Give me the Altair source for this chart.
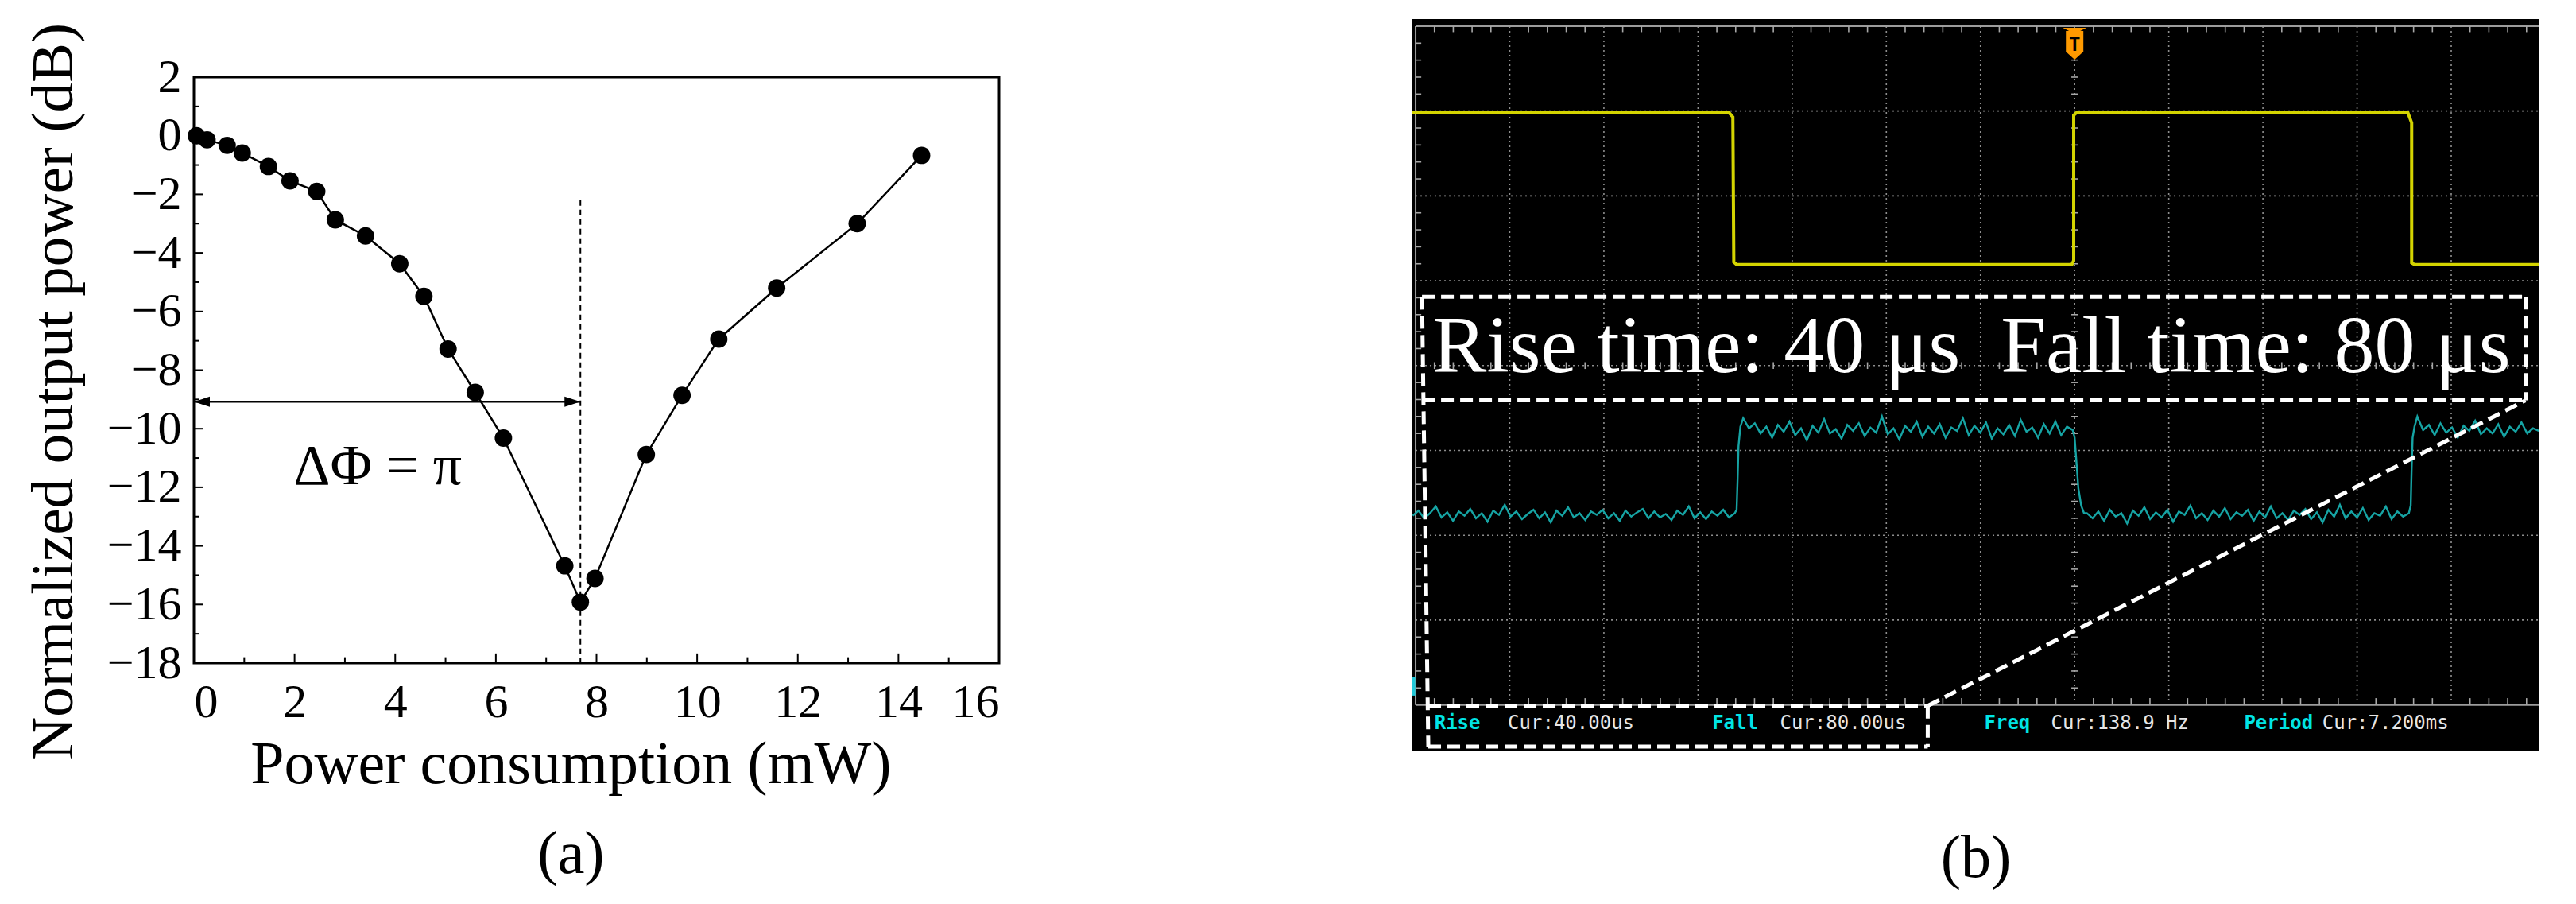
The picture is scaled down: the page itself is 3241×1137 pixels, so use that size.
import altair as alt
import pandas as pd

SERIF = "Liberation Serif"
MONO = "DejaVu Sans Mono"

# ------------------------------------------------------------------ panel (a)
power_mw = [0.05, 0.26, 0.66, 0.96, 1.48, 1.91, 2.44, 2.81, 3.41, 4.09, 4.57, 5.05,
            5.59, 6.15, 7.37, 7.68, 7.97, 8.99, 9.70, 10.43, 11.58, 13.18, 14.46]
output_db = [0.0, -0.14, -0.33, -0.59, -1.05, -1.54, -1.90, -2.87, -3.42, -4.37, -5.48, -7.28,
             -8.76, -10.32, -14.68, -15.92, -15.11, -10.88, -8.86, -6.94, -5.20, -3.00, -0.67]
x_major = [0, 2, 4, 6, 8, 10, 12, 14, 16]
x_minor = [1, 3, 5, 7, 9, 11, 13, 15]
y_major = [-18, -16, -14, -12, -10, -8, -6, -4, -2, 0, 2]
y_minor = [-17, -15, -13, -11, -9, -7, -5, -3, -1, 1]
pi_power = [7.68]
pi_line_top = [-2.2]
arrow_level = [-9.08]
phase_text = ["ΔΦ = π"]
phase_text_x = [3.65]
phase_text_y = [-11.31]

# ------------------------------------------------------------------ panel (b)  (units: screen divisions)
yellow_t = [-0.034, 3.33, 3.37, 3.38, 3.41, 6.97, 6.99, 6.99, 7.02, 10.54, 10.58, 10.58, 10.61, 11.937]
yellow_v = [1.02, 1.02, 1.07, 2.78, 2.81, 2.81, 2.76, 1.05, 1.02, 1.02, 1.14, 2.79, 2.81, 2.81]

cyan_low1 = [5.77, 5.71, 5.80, 5.74, 5.66, 5.79, 5.73, 5.83, 5.72, 5.77,
             5.69, 5.80, 5.74, 5.84, 5.71, 5.76, 5.64, 5.78, 5.72, 5.81,
             5.75, 5.70, 5.80, 5.73, 5.85, 5.71, 5.77, 5.67, 5.79, 5.74,
             5.82, 5.72, 5.76, 5.70, 5.80, 5.74, 5.83, 5.71, 5.78, 5.73,
             5.69, 5.80, 5.72, 5.79, 5.75, 5.82, 5.71, 5.76, 5.66, 5.80,
             5.73, 5.81, 5.72, 5.77, 5.70, 5.79, 5.74]
cyan_rise1_t = [3.41, 3.42, 3.43, 3.45]
cyan_rise1_v = [5.70, 5.35, 4.95, 4.72]
cyan_high1 = [4.62, 4.74, 4.68, 4.80, 4.72, 4.85, 4.70, 4.78, 4.66, 4.82,
              4.74, 4.88, 4.71, 4.79, 4.63, 4.80, 4.75, 4.86, 4.70, 4.77,
              4.68, 4.83, 4.73, 4.79, 4.60, 4.81, 4.74, 4.87, 4.71, 4.78,
              4.66, 4.84, 4.72, 4.80, 4.69, 4.85, 4.73, 4.77, 4.62, 4.82,
              4.71, 4.79, 4.67, 4.86, 4.74, 4.81, 4.70, 4.83, 4.64, 4.78,
              4.73, 4.85, 4.69, 4.80, 4.66, 4.82, 4.72, 4.76]
cyan_fall1_t = [7.00, 7.02, 7.04, 7.07, 7.10]
cyan_fall1_v = [4.85, 5.15, 5.45, 5.65, 5.74]
cyan_low2 = [5.74, 5.80, 5.72, 5.83, 5.70, 5.78, 5.74, 5.86, 5.71, 5.77,
             5.67, 5.81, 5.73, 5.79, 5.70, 5.84, 5.72, 5.76, 5.65, 5.80,
             5.74, 5.82, 5.71, 5.78, 5.68, 5.81, 5.73, 5.77, 5.70, 5.83,
             5.72, 5.79, 5.66, 5.80, 5.74, 5.82, 5.71, 5.76, 5.69, 5.81,
             5.73, 5.85, 5.70, 5.78, 5.64, 5.80, 5.72, 5.79, 5.68, 5.82,
             5.74, 5.77, 5.66, 5.81, 5.72, 5.78, 5.74]
cyan_rise2_t = [10.57, 10.58, 10.59, 10.61]
cyan_rise2_v = [5.65, 5.20, 4.85, 4.72]
cyan_high2 = [4.60, 4.76, 4.70, 4.82, 4.68, 4.79, 4.73, 4.85, 4.71, 4.77, 4.65,
              4.81, 4.74, 4.80, 4.69, 4.84, 4.72, 4.78, 4.67, 4.80, 4.74, 4.77]
# time spans (divisions) covered by each flat sampled segment
seg_low1 = (-0.03, 3.39)
seg_high1 = (3.48, 6.98)
seg_low2 = (7.13, 10.55)
seg_high2 = (10.64, 11.93)

callout_x = [0.068, 11.79, 0.068, 0.068, 0.135, 5.44, 0.135, 5.44]
callout_y = [3.19, 3.19, 4.41, 3.19, 8.01, 8.01, 8.49, 8.01]
callout_x2 = [11.79, 11.79, 11.79, 0.135, 5.44, 5.44, 5.44, 11.79]
callout_y2 = [3.19, 4.41, 4.41, 8.49, 8.01, 8.49, 8.49, 4.41]

big_text = ["Rise time: 40 μs\u00a0\u00a0Fall time: 80 μs"]
big_text_x = [0.18]
big_text_y = [4.08]

meas_names = ["Rise", "Fall", "Freq", "Period"]
meas_names_x = [0.20, 3.15, 6.04, 8.80]
meas_values = ["Cur:40.00us", "Cur:80.00us", "Cur:138.9 Hz", "Cur:7.200ms"]
meas_values_x = [0.98, 3.87, 6.75, 9.63]
meas_row_y = 8.22

trigger_t = [7.0]
grid_x = [1, 2, 3, 4, 5, 6, 7, 8, 9, 10, 11]
grid_y = [1, 2, 3, 4, 5, 6, 7]
x_div_min, x_div_max = -0.034, 11.937
y_div_min, y_div_max = -0.084, 8.547

# ================================================================== panel (a)
sx_a = alt.Scale(domain=[0, 16], nice=False, zero=False)
sy_a = alt.Scale(domain=[-18, 2], nice=False, zero=False)
x_axis = alt.Axis(values=x_major, ticks=False, domain=False, grid=False, labelFlush=True,
                  labelFont=SERIF, labelFontSize=60, labelColor="black", labelPadding=20,
                  titleFont=SERIF, titleFontSize=76, titleFontWeight="normal", titleColor="black",
                  titlePadding=11, titleLineHeight=113, titleX=474)
y_axis = alt.Axis(values=y_major, ticks=False, domain=False, grid=False,
                  labelFont=SERIF, labelFontSize=60, labelColor="black", labelPadding=16,
                  titleFont=SERIF, titleFontSize=75, titleFontWeight="normal", titleColor="black",
                  titlePadding=28, titleY=395)
XA = alt.X("x:Q", scale=sx_a, axis=x_axis, title=["Power consumption (mW)", "(a)"])
YA = alt.Y("y:Q", scale=sy_a, axis=y_axis, title="Normalized output power (dB)")

meas_df = pd.DataFrame({"x": power_mw, "y": output_db})
line_a = alt.Chart(meas_df).mark_line(color="black", strokeWidth=2.5).encode(x=XA, y=YA)
pts_a = alt.Chart(meas_df).mark_circle(color="black", size=480, opacity=1).encode(x=XA, y=YA)

vline_df = pd.DataFrame({"x": pi_power, "y": pi_line_top, "y2": [-18]})
vline = alt.Chart(vline_df).mark_rule(color="black", strokeWidth=2, strokeDash=[7, 5]).encode(
    x=XA, y=YA, y2="y2:Q")

arrow_df = pd.DataFrame({"x": [0], "x2": pi_power, "y": arrow_level})
arrow = alt.Chart(arrow_df).mark_rule(color="black", strokeWidth=2.5).encode(x=XA, x2="x2:Q", y=YA)
head_df = pd.DataFrame({"x": [0, pi_power[0]], "y": arrow_level * 2, "d": ["L", "R"]})
heads = alt.Chart(head_df).mark_point(filled=True, opacity=1, color="black", size=400).encode(
    x=XA, y=YA,
    shape=alt.Shape("d:N", legend=None,
                    scale=alt.Scale(domain=["L", "R"],
                                    range=["M0,0 L2,-0.65 L2,0.65 Z", "M0,0 L-2,-0.65 L-2,0.65 Z"])))
lab_df = pd.DataFrame({"x": phase_text_x, "y": phase_text_y, "t": phase_text})
phase_lab = alt.Chart(lab_df).mark_text(font=SERIF, fontSize=72, color="black").encode(
    x=XA, y=YA, text="t:N")

xt_df = pd.DataFrame({"x": x_major + x_minor,
                      "y": [-18] * (len(x_major) + len(x_minor)),
                      "y2": [-17.67] * len(x_major) + [-17.8] * len(x_minor)})
xticks = alt.Chart(xt_df).mark_rule(color="black", strokeWidth=2).encode(x=XA, y=YA, y2="y2:Q")
yt_df = pd.DataFrame({"y": y_major + y_minor,
                      "x": [0] * (len(y_major) + len(y_minor)),
                      "x2": [0.19] * len(y_major) + [0.11] * len(y_minor)})
yticks = alt.Chart(yt_df).mark_rule(color="black", strokeWidth=2).encode(x=XA, x2="x2:Q", y=YA)

panel_a = alt.layer(xticks, yticks, vline, arrow, heads, line_a, pts_a, phase_lab).properties(
    width=1013, height=737,
    view=alt.ViewBackground(stroke="black", strokeWidth=3, fill="white"))

# empty band that lowers panel (a) relative to panel (b)
spacer = alt.Chart(pd.DataFrame({"x": [0]})).mark_point(opacity=0).encode(
    x=alt.value(0), y=alt.value(0)).properties(
    width=1013, height=1, view=alt.ViewBackground(stroke=None, fill=None))

left_col = alt.vconcat(spacer, panel_a, spacing=0)

# ================================================================== panel (b)
sx_b = alt.Scale(domain=[x_div_min, x_div_max], nice=False, zero=False)
sy_b = alt.Scale(domain=[y_div_min, y_div_max], nice=False, zero=False, reverse=True)
XB = alt.X("x:Q", scale=sx_b, axis=None)
YB = alt.Y("y:Q", scale=sy_b, axis=None)

GRID = "#8e8e8e"
vg_df = pd.DataFrame({"x": grid_x, "y": [0] * len(grid_x), "y2": [8] * len(grid_x)})
vgrid = alt.Chart(vg_df).mark_rule(color=GRID, strokeWidth=1.6, strokeDash=[2, 4]).encode(
    x=XB, y=YB, y2="y2:Q")
hg_df = pd.DataFrame({"y": grid_y, "x": [0] * len(grid_y), "x2": [x_div_max] * len(grid_y)})
hgrid = alt.Chart(hg_df).mark_rule(color=GRID, strokeWidth=1.6, strokeDash=[2, 4]).encode(
    x=XB, x2="x2:Q", y=YB)
border_df = pd.DataFrame({"x": [0, 0, 0], "x2": [x_div_max, x_div_max, 0],
                          "y": [0, 8, 0], "y2": [0, 8, 8]})
border = alt.Chart(border_df).mark_rule(color="#9c9c9c", strokeWidth=2).encode(
    x=XB, x2="x2:Q", y=YB, y2="y2:Q")

minor_x = [round(0.2 * i, 2) for i in range(1, 60) if i % 5 != 0]
minor_y = [round(0.2 * i, 2) for i in range(1, 40) if i % 5 != 0]
tick_rows = []
for v in minor_x:
    tick_rows.append({"x": v, "x2": v, "y": 0, "y2": 0.07})
    tick_rows.append({"x": v, "x2": v, "y": 8, "y2": 7.92})
    tick_rows.append({"x": v, "x2": v, "y": 3.96, "y2": 4.04})
for v in minor_y:
    tick_rows.append({"x": 0, "x2": 0.06, "y": v, "y2": v})
    tick_rows.append({"x": 6.965, "x2": 7.035, "y": v, "y2": v})
ticks_b = alt.Chart(pd.DataFrame(tick_rows)).mark_rule(color="#a8a8a8", strokeWidth=1.6).encode(
    x=XB, x2="x2:Q", y=YB, y2="y2:Q")

y_df = pd.DataFrame({"x": yellow_t, "y": yellow_v, "i": list(range(len(yellow_t)))})
yellow = alt.Chart(y_df).mark_line(color="#d4d400", strokeWidth=4, strokeJoin="miter").encode(
    x=XB, y=YB, order="i:Q")


def sampled(span, values):
    a, b = span
    n = len(values)
    return [a + (b - a) * k / (n - 1) for k in range(n)], list(values)


ct, cv = [], []
for part in [sampled(seg_low1, cyan_low1), (cyan_rise1_t, cyan_rise1_v),
             sampled(seg_high1, cyan_high1), (cyan_fall1_t, cyan_fall1_v),
             sampled(seg_low2, cyan_low2), (cyan_rise2_t, cyan_rise2_v),
             sampled(seg_high2, cyan_high2)]:
    ct += list(part[0])
    cv += list(part[1])
c_df = pd.DataFrame({"x": ct, "y": cv, "i": list(range(len(ct)))})
cyan = alt.Chart(c_df).mark_line(color="#16a4a4", strokeWidth=2.4).encode(x=XB, y=YB, order="i:Q")

chmark_df = pd.DataFrame({"x": [-0.02], "y": [7.67], "y2": [7.89]})
chmark = alt.Chart(chmark_df).mark_rule(color="#20c8d8", strokeWidth=4).encode(x=XB, y=YB, y2="y2:Q")

trig_df = pd.DataFrame({"x": trigger_t, "y": [0.206], "t": ["T"]})
trig = alt.Chart(trig_df).mark_point(
    shape="M-0.75,-1 L0.75,-1 L0.35,-0.8 L0.55,-0.8 L0.55,0.5 L0,1 L-0.55,0.5 L-0.55,-0.8 L-0.35,-0.8 Z",
    filled=True, color="#ff9a00", opacity=1, size=1600).encode(x=XB, y=YB)
trig_t = alt.Chart(trig_df).mark_text(font=MONO, fontSize=24, fontWeight="bold", color="black",
                                      dy=2).encode(x=XB, y=YB, text="t:N")

co_df = pd.DataFrame({"x": callout_x, "y": callout_y, "x2": callout_x2, "y2": callout_y2})
callout = alt.Chart(co_df).mark_rule(color="white", strokeWidth=5, strokeDash=[16, 8]).encode(
    x=XB, x2="x2:Q", y=YB, y2="y2:Q")

bt_df = pd.DataFrame({"x": big_text_x, "y": big_text_y, "t": big_text})
bigtxt = alt.Chart(bt_df).mark_text(font=SERIF, fontSize=102, color="white", align="left",
                                    baseline="alphabetic").encode(x=XB, y=YB, text="t:N")

mn_df = pd.DataFrame({"x": meas_names_x, "y": [meas_row_y] * 4, "t": meas_names})
mnames = alt.Chart(mn_df).mark_text(font=MONO, fontSize=24, fontWeight="bold", color="#00e4e4",
                                    align="left", baseline="middle").encode(x=XB, y=YB, text="t:N")
mv_df = pd.DataFrame({"x": meas_values_x, "y": [meas_row_y] * 4, "t": meas_values})
mvals = alt.Chart(mv_df).mark_text(font=MONO, fontSize=24, color="#e6e6e6",
                                   align="left", baseline="middle").encode(x=XB, y=YB, text="t:N")

panel_b = alt.layer(vgrid, hgrid, border, ticks_b, yellow, cyan, chmark, trig, trig_t,
                    callout, bigtxt, mnames, mvals).properties(
    width=1418, height=921,
    view=alt.ViewBackground(fill="black", stroke=None),
    title=alt.TitleParams(text="(b)", orient="bottom", font=SERIF, fontSize=76,
                          fontWeight="normal", color="black", offset=98, anchor="middle"))

chart = alt.hconcat(left_col, panel_b, spacing=509).properties(
    padding={"left": 20, "top": 13, "right": 5, "bottom": 5}
).configure(background="white")

chart.save("out.html", embed_options={"renderer": "svg", "actions": False})
